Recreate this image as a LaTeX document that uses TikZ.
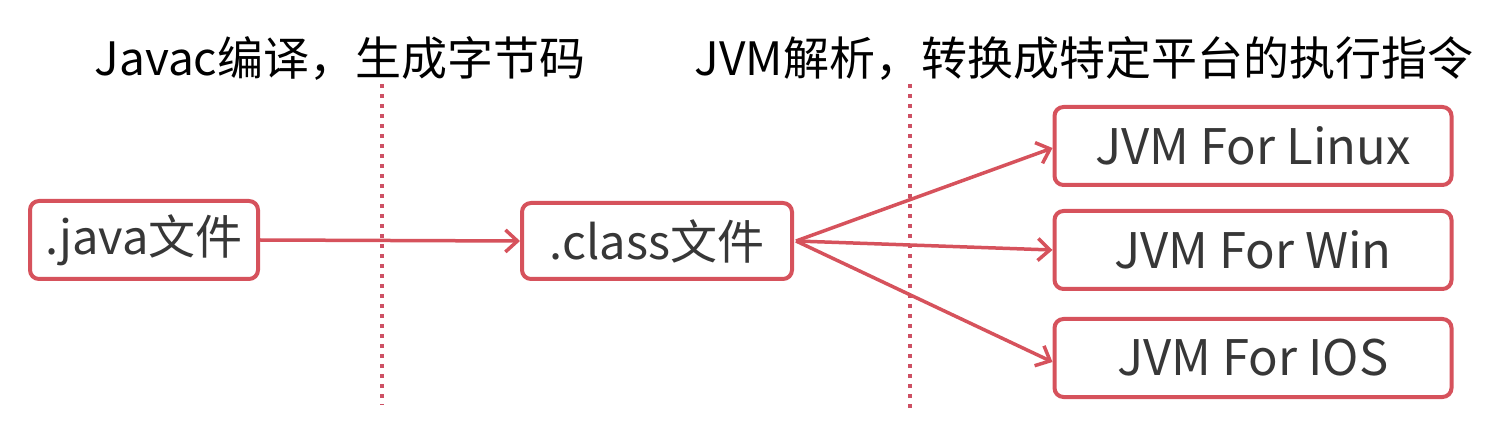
\documentclass[tikz,border=0pt]{standalone}
\usepackage{fontspec}
\setmainfont{Noto Sans CJK SC}
\usetikzlibrary{arrows.meta}
\definecolor{boxred}{RGB}{214,82,92}
\definecolor{dotred}{RGB}{205,80,100}
\definecolor{txt}{RGB}{55,55,55}
\begin{document}
\begin{tikzpicture}[x=1pt,y=-1pt,
  filebox/.style={draw=boxred, line width=4pt, rounded corners=9pt, fill=white, text=txt, font=\fontsize{47}{52}\selectfont, inner sep=0pt},
  conn/.style={draw=boxred, line width=3.5pt, -{Straight Barb[length=12pt,width=22pt,line width=3.5pt]}},
  divider/.style={draw=dotred, line width=4pt, dash pattern=on 4pt off 6pt},
  title/.style={text=black, font=\fontsize{46}{50}\selectfont, inner sep=0pt, anchor=center}]
\useasboundingbox (0,0) rectangle (1488,435);
\node[filebox, minimum width=228pt, minimum height=78pt] (java) at (144,240) {.java文件};
\node[filebox, minimum width=270pt, minimum height=76pt] (class) at (657,241) {.class文件};
\node[filebox, minimum width=397pt, minimum height=78pt, font=\fontsize{49}{54}\selectfont] (linux) at (1253,146) {JVM For Linux};
\node[filebox, minimum width=397pt, minimum height=78pt, font=\fontsize{49}{54}\selectfont] (win) at (1253,250) {JVM For Win};
\node[filebox, minimum width=397pt, minimum height=78pt, font=\fontsize{49}{54}\selectfont] (ios) at (1253,358) {JVM For IOS};
\node[title] (t1) at (340,58) {Javac编译，生成字节码};
\node[title] (t2) at (1084,58) {JVM解析，转换成特定平台的执行指令};
\coordinate (d1a) at (382,84); \coordinate (d1b) at (382,405);
\coordinate (d2a) at (910,84); \coordinate (d2b) at (910,408);
\draw[divider] (d1a) -- (d1b);
\draw[divider] (d2a) -- (d2b);
\coordinate (src) at ([xshift=2pt]class.east);
\draw[conn] (java.east) -- (class.west);
\draw[conn] (src) -- ([yshift=-2pt]linux.west);
\draw[conn] (src) -- (win.west);
\draw[conn] (src) -- ([yshift=-4pt]ios.west);
\end{tikzpicture}
\end{document}
